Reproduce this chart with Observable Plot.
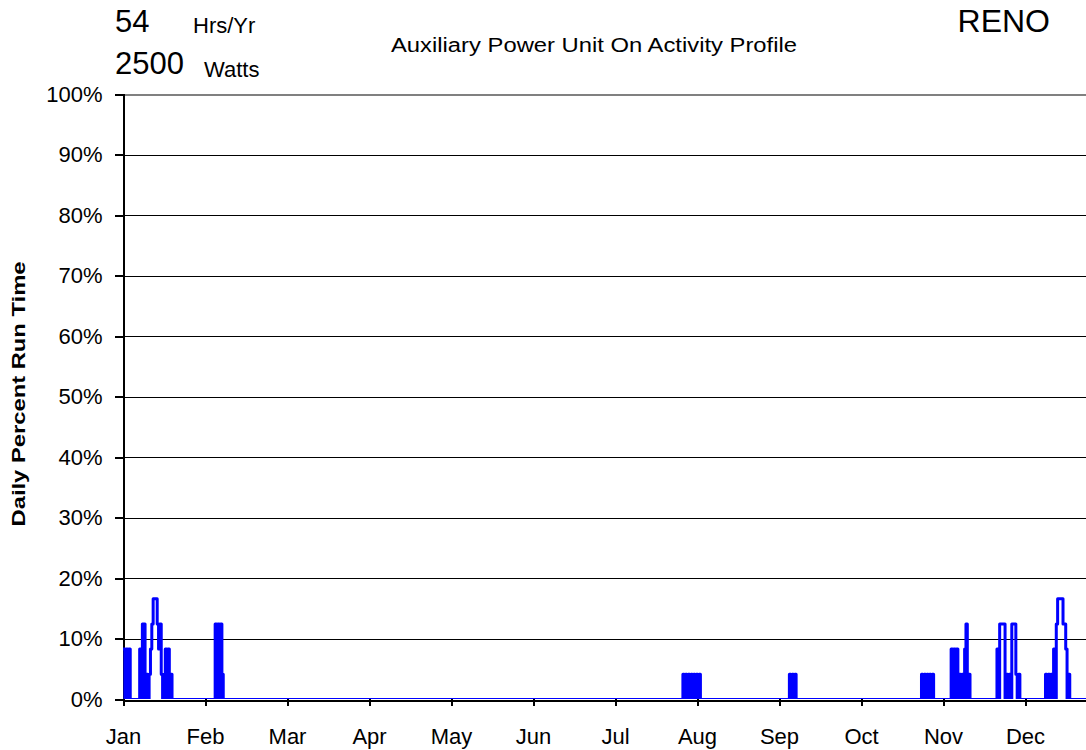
<!DOCTYPE html>
<html>
<head>
<meta charset="utf-8">
<script src="https://cdn.jsdelivr.net/npm/d3@7"></script>
<script src="https://cdn.jsdelivr.net/npm/@observablehq/plot@0.6"></script>
<style>
  html, body { margin: 0; padding: 0; background: #fff; overflow: hidden; }
  #wrap { position: relative; width: 1086px; height: 750px; font-family: "Liberation Sans", Arial, sans-serif; }
  #overlay { position: absolute; left: 0; top: 0; pointer-events: none; }
  #chart svg g[aria-label^="x-axis"], #chart svg g[aria-label^="y-axis"] { stroke-width: 2; shape-rendering: crispEdges; }
</style>
</head>
<body>
<div id="wrap">
  <div id="chart"></div>
  <svg id="overlay" width="1086" height="750" font-family="Liberation Sans, Arial, sans-serif" fill="#000">
    <text x="115" y="32" font-size="31">54</text>
    <text x="193" y="33" font-size="22">Hrs/Yr</text>
    <text x="115" y="74" font-size="31">2500</text>
    <text x="204" y="77" font-size="22">Watts</text>
    <text x="594" y="52" font-size="20" text-anchor="middle" textLength="406" lengthAdjust="spacingAndGlyphs">Auxiliary Power Unit On Activity Profile</text>
    <text x="1050" y="32" font-size="32" text-anchor="end">RENO</text>
    <text transform="translate(25,394) rotate(-90)" font-size="19" font-weight="bold" text-anchor="middle" textLength="265" lengthAdjust="spacingAndGlyphs">Daily Percent Run Time</text>
  </svg>
</div>
<script>
// Month tick labels (equally spaced, 12 per year)
const months = ["Jan","Feb","Mar","Apr","May","Jun","Jul","Aug","Sep","Oct","Nov","Dec"];
// Y tick values (percent)
const yTickValues = [0,10,20,30,40,50,60,70,80,90,100];
// Number of half-day samples in the year
const nHalfDays = 730;
// Active periods: start index (half-days) and values (percent) per half-day
const segStarts = [0, 12, 68, 415, 494, 592, 614, 620, 648, 684];
const segValues = [
  [8.33,0,8.33,0,8.33,0],
  [8.33,0,12.5,12.5,0,4.17,0,4.17,8.33,12.5,16.67,16.67,16.67,12.5,8.33,12.5,4.17,0,4.17,8.33,0,8.33,0,4.17,0],
  [12.5,0,12.5,0,12.5,4.17,0],
  [4.17,0,4.17,0,4.17,0,4.17,0,4.17,0,4.17,0,4.17,0],
  [4.17,0,4.17,0,4.17,0],
  [4.17,0,4.17,0,4.17,0,4.17,0,4.17,0],
  [8.33,0,8.33,0,8.33,0],
  [4.17,0,4.17,0,8.33,12.5,0,4.17,0],
  [8.33,0,12.5,12.5,12.5,12.5,0,4.17,0,4.17,0,12.5,12.5,12.5,4.17,0,4.17,0],
  [4.17,0,4.17,0,4.17,0,8.33,0,12.5,16.67,16.67,16.67,16.67,12.5,12.5,8.33,0,4.17,0]
];

const series = new Array(nHalfDays + 1).fill(0);
segStarts.forEach((s, i) => segValues[i].forEach((v, j) => { series[s + j] = v; }));
const data = series.map((v, h) => ({day: h / 2, pct: v}));

const daysPerMonth = 365 / 12;
const monthTicks = months.map((m, i) => i * daysPerMonth);
const gridValues = yTickValues.filter(v => v > 0 && v < 100);

const plotLeft = 123, plotWidth = 1086;
const visibleDays = (plotWidth - plotLeft) * 365 / 984;

const chart = Plot.plot({
  width: 1086,
  height: 750,
  marginTop: 94,
  marginBottom: 51,
  marginLeft: 123,
  marginRight: 0,
  style: {fontFamily: "Liberation Sans, Arial, sans-serif", fontSize: "22px", background: "#fff", color: "#000"},
  x: {
    domain: [0, visibleDays],
    ticks: monthTicks,
    tickFormat: d => months[Math.round(d / daysPerMonth)],
    tickSize: 7,
    tickPadding: 22,
    label: null
  },
  y: {
    domain: [0, 100],
    ticks: yTickValues,
    tickFormat: d => d + "%",
    tickSize: 8,
    tickPadding: 13,
    label: null
  },
  marks: [
    Plot.ruleY(gridValues, {stroke: "#000", strokeWidth: 1, shapeRendering: "crispEdges"}),
    Plot.ruleY([100], {stroke: "#808080", strokeWidth: 2, shapeRendering: "crispEdges"}),
    Plot.ruleY([0], {stroke: "#000", strokeWidth: 2, dy: 1, shapeRendering: "crispEdges"}),
    Plot.ruleX([0], {stroke: "#000", strokeWidth: 2, shapeRendering: "crispEdges"}),
    Plot.line(data, {x: "day", y: "pct", curve: "step-after", stroke: "#0000ff", strokeWidth: 3, clip: true})
  ]
});
document.getElementById("chart").appendChild(chart);
</script>
</body>
</html>
